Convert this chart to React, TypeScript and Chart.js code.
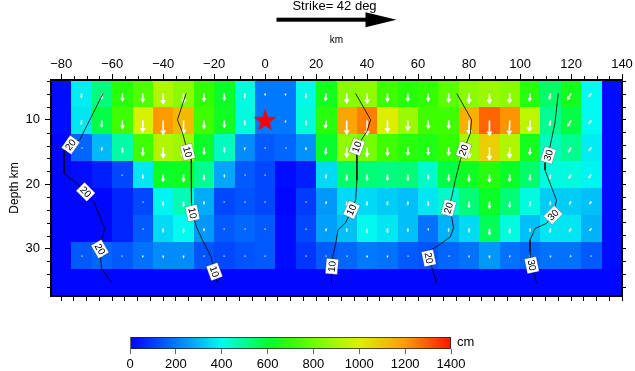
import { useEffect, useRef } from 'react';
import { Chart, registerables } from 'chart.js';

Chart.register(...registerables);

const FONT = '"Liberation Sans", Arial, Helvetica, sans-serif';

// Fault grid (subfaults): along-strike km, depth km
const STRIKE_START_KM = -84;
const STRIKE_STEP_KM = 8;
const DEPTH_TOP_KM = 3.8;
const DEPTH_STEP_KM = 4.2;
const X_MIN = -84;
const X_MAX = 140;
const Y_MIN = 3.8;
const Y_MAX = 37.4;

// Slip (cm) per subfault, top row first, 28 columns each
const SLIP_ROW_1 = [20, 380, 520, 680, 750, 920, 850, 700, 620, 420, 200, 200, 410, 640, 850, 860, 720, 680, 700, 770, 850, 880, 850, 680, 540, 640, 400, 20];
const SLIP_ROW_2 = [20, 370, 580, 720, 990, 1200, 1130, 720, 630, 420, 200, 200, 420, 680, 1180, 1240, 1010, 880, 720, 720, 1150, 1280, 1210, 940, 500, 580, 400, 20];
const SLIP_ROW_3 = [10, 170, 300, 480, 720, 920, 890, 620, 450, 230, 150, 170, 240, 610, 860, 810, 720, 680, 660, 700, 900, 1080, 920, 640, 450, 500, 380, 20];
const SLIP_ROW_4 = [10, 20, 50, 120, 370, 620, 630, 500, 270, 150, 120, 20, 50, 350, 540, 530, 520, 530, 440, 580, 630, 670, 620, 540, 420, 420, 390, 20];
const SLIP_ROW_5 = [10, 10, 10, 60, 120, 390, 460, 280, 120, 140, 120, 10, 100, 250, 350, 350, 330, 310, 370, 440, 530, 620, 530, 420, 330, 330, 310, 20];
const SLIP_ROW_6 = [10, 10, 10, 60, 150, 350, 400, 250, 150, 170, 150, 20, 120, 260, 310, 400, 370, 310, 190, 290, 350, 560, 420, 310, 370, 370, 290, 20];
const SLIP_ROW_7 = [10, 150, 170, 150, 190, 230, 230, 140, 120, 140, 150, 20, 90, 150, 170, 200, 190, 150, 140, 170, 190, 250, 190, 170, 190, 190, 150, 20];
const SLIP_ROW_8 = [10, 10, 10, 10, 10, 10, 10, 10, 10, 10, 10, 10, 10, 10, 10, 10, 10, 10, 10, 10, 10, 10, 10, 10, 10, 10, 10, 10];
const SLIP_ROWS = [SLIP_ROW_1, SLIP_ROW_2, SLIP_ROW_3, SLIP_ROW_4, SLIP_ROW_5, SLIP_ROW_6, SLIP_ROW_7, SLIP_ROW_8];

// Rake tilt of slip vectors per column (deg away from straight down)
const RAKE_TILT_DEG = [0, 5, 5, 0, 0, 0, 0, 0, 0, 0, 0, 0, 0, 8, 0, 0, 0, 0, 0, 0, 0, 0, 3, 5, 12, 30, 40, 40];

// Rupture-time contours (strike km, depth km)
const C10A_X = [-31.0, -34.4, -32.4, -30.4, -29.0, -28.8, -29.0, -28.5, -27.0, -24.6, -21.2, -19.9, -18.7];
const C10A_Y = [5.9, 10.0, 12.0, 15.0, 16.2, 19.4, 22.9, 24.5, 26.6, 28.7, 31.3, 33.6, 35.4];
const C10B_X = [35.5, 41.4, 39.9, 36.0, 36.0, 36.0, 35.5, 33.9, 31.6, 28.6, 27.7, 26.2, 26.2, 25.9];
const C10B_Y = [5.9, 10.0, 11.8, 14.2, 15.7, 19.4, 22.5, 24.0, 26.0, 27.1, 29.2, 31.8, 32.8, 35.4];
const C20A_X = [-63.6, -72.7, -76.3, -78.9, -78.9, -71.4, -70.4, -67.5, -62.9, -63.8, -64.8, -64.2, -60.3];
const C20A_Y = [5.9, 13.1, 13.9, 14.7, 18.3, 20.7, 21.2, 22.5, 26.9, 28.2, 30.1, 33.1, 35.3];
const C20B_X = [75.2, 81.0, 80.5, 77.9, 76.6, 75.6, 74.6, 73.2, 72.0, 73.2, 73.9, 72.7, 68.1, 65.3, 64.2, 65.3, 67.3];
const C20B_Y = [5.9, 10.0, 12.1, 14.7, 16.2, 17.8, 19.4, 22.0, 23.7, 25.1, 26.8, 28.2, 29.5, 30.2, 31.5, 32.8, 35.4];
const C30_X = [115.0, 113.7, 111.9, 111.1, 109.8, 109.8, 114.3, 113.0, 110.4, 105.9, 103.9, 103.9, 104.6, 106.5];
const C30_Y = [5.9, 10.5, 13.9, 15.5, 16.7, 17.8, 22.5, 24.8, 26.1, 26.9, 28.7, 30.5, 32.6, 35.4];

const LABEL_X = [-76.3, -70.4, -64.8, -30.4, -28.5, -19.9, 36.0, 33.9, 26.2, 77.9, 72.0, 64.2, 111.1, 113.0, 104.6];
const LABEL_Y = [13.9, 21.2, 30.1, 15.0, 24.5, 33.6, 14.2, 24.0, 32.8, 14.7, 23.7, 31.5, 15.5, 24.8, 32.6];
const LABEL_TEXT = ['20', '20', '20', '10', '10', '10', '10', '10', '10', '20', '20', '20', '30', '30', '30'];
const LABEL_ANGLE = [-55, 45, 60, 75, 78, 70, -70, -66, -85, -70, -75, 78, -72, -45, 78];

// Hypocentre
const EPI_X = 0;
const EPI_Y = 10;

// Axis ticks
const X_TICKS = [-80, -60, -40, -20, 0, 20, 40, 60, 80, 100, 120, 140];
const X_MINOR_STEP = 5;
const Y_TICKS = [10, 20, 30];
const Y_MINOR_STEP = 2;

// Colour scale
const CB_MIN = 0;
const CB_MAX = 1400;
const CB_TICKS = [0, 200, 400, 600, 800, 1000, 1200, 1400];
const CMAP_VALUES = [0, 200, 400, 600, 700, 800, 1000, 1200, 1400];
const CMAP_RGB = [
  [0, 0, 255], [0, 120, 255], [0, 250, 240], [0, 255, 50], [50, 255, 0],
  [110, 255, 0], [220, 240, 0], [255, 155, 0], [255, 20, 0],
];

function slipColor(v: number): string {
  if (v <= CMAP_VALUES[0]) return `rgb(${CMAP_RGB[0].join(',')})`;
  for (let i = 0; i < CMAP_VALUES.length - 1; i++) {
    if (v <= CMAP_VALUES[i + 1]) {
      const t = (v - CMAP_VALUES[i]) / (CMAP_VALUES[i + 1] - CMAP_VALUES[i]);
      const a = CMAP_RGB[i], b = CMAP_RGB[i + 1];
      const c = a.map((x, k) => Math.round(x + (b[k] - x) * t));
      return `rgb(${c.join(',')})`;
    }
  }
  return `rgb(${CMAP_RGB[CMAP_RGB.length - 1].join(',')})`;
}

const fmt = (v: number) => (v < 0 ? '\u2212' + Math.abs(v) : String(v));
const noPadX = (s: any) => { s.paddingLeft = 0; s.paddingRight = 0; };
const noPadY = (s: any) => { s.paddingTop = 0; s.paddingBottom = 0; };

const heatPlugin = {
  id: 'heat',
  beforeDraw(chart: any) {
    const { ctx } = chart;
    const xs = chart.scales.x, ys = chart.scales.y;
    ctx.save();
    SLIP_ROWS.forEach((row, r) => {
      row.forEach((v, c) => {
        const x0 = Math.round(xs.getPixelForValue(STRIKE_START_KM + c * STRIKE_STEP_KM));
        const x1 = Math.round(xs.getPixelForValue(STRIKE_START_KM + (c + 1) * STRIKE_STEP_KM));
        const y0 = Math.round(ys.getPixelForValue(DEPTH_TOP_KM + r * DEPTH_STEP_KM));
        const y1 = Math.round(ys.getPixelForValue(DEPTH_TOP_KM + (r + 1) * DEPTH_STEP_KM));
        ctx.fillStyle = slipColor(v);
        ctx.fillRect(x0, y0, x1 - x0, y1 - y0);
      });
    });
    ctx.restore();
  },
};

const ARROW_SCALE = 0.0125;
const arrowPlugin = {
  id: 'arrows',
  beforeDatasetsDraw(chart: any) {
    const { ctx } = chart;
    const xs = chart.scales.x, ys = chart.scales.y;
    ctx.save();
    ctx.fillStyle = '#fff';
    ctx.strokeStyle = '#fff';
    SLIP_ROWS.forEach((row, r) => {
      row.forEach((v, c) => {
        const cx = xs.getPixelForValue(STRIKE_START_KM + (c + 0.5) * STRIKE_STEP_KM);
        const cy = ys.getPixelForValue(DEPTH_TOP_KM + (r + 0.5) * DEPTH_STEP_KM);
        const L = v * ARROW_SCALE;
        if (L < 2.2) {
          if (v > 60) ctx.fillRect(Math.round(cx) - 0.5, Math.round(cy) - 0.5, 1.2, 1.2);
          return;
        }
        const a = (RAKE_TILT_DEG[c] * Math.PI) / 180;
        const dx = -Math.sin(a), dy = Math.cos(a);
        const head = Math.min(5, L * 0.45);
        const hw = head * 0.6;
        const bx = cx + dx * (L - head), by = cy + dy * (L - head);
        ctx.lineWidth = 1.6;
        ctx.beginPath();
        ctx.moveTo(cx, cy);
        ctx.lineTo(bx, by);
        ctx.stroke();
        ctx.beginPath();
        ctx.moveTo(cx + dx * L, cy + dy * L);
        ctx.lineTo(bx - dy * hw, by + dx * hw);
        ctx.lineTo(bx + dy * hw, by - dx * hw);
        ctx.closePath();
        ctx.fill();
      });
    });
    ctx.restore();
  },
};

const labelPlugin = {
  id: 'contourLabels',
  afterDatasetsDraw(chart: any) {
    const { ctx } = chart;
    const xs = chart.scales.x, ys = chart.scales.y;
    ctx.save();
    ctx.font = `10px ${FONT}`;
    ctx.textAlign = 'center';
    ctx.textBaseline = 'middle';
    LABEL_TEXT.forEach((t, i) => {
      const px = xs.getPixelForValue(LABEL_X[i]);
      const py = ys.getPixelForValue(LABEL_Y[i]);
      const w = ctx.measureText(t).width + 4;
      ctx.save();
      ctx.translate(px, py);
      ctx.rotate((LABEL_ANGLE[i] * Math.PI) / 180);
      ctx.fillStyle = '#fff';
      ctx.fillRect(-w / 2, -6, w, 12);
      ctx.strokeStyle = 'rgba(0,0,0,0.35)';
      ctx.lineWidth = 0.6;
      ctx.strokeRect(-w / 2, -6, w, 12);
      ctx.fillStyle = '#000';
      ctx.fillText(t, 0, 0.5);
      ctx.restore();
    });
    ctx.restore();
  },
};

const decoPlugin = {
  id: 'deco',
  afterDraw(chart: any) {
    const { ctx, chartArea } = chart;
    const xs = chart.scales.x, ys = chart.scales.y;
    ctx.save();
    // minor ticks
    ctx.strokeStyle = '#000';
    ctx.lineWidth = 1;
    ctx.beginPath();
    for (let v = -80; v <= X_MAX; v += X_MINOR_STEP) {
      if (X_TICKS.includes(v)) continue;
      const x = Math.round(xs.getPixelForValue(v)) + 0.5;
      ctx.moveTo(x, chartArea.top - 4);
      ctx.lineTo(x, chartArea.top);
    }
    for (let v = 4; v < Y_MAX; v += Y_MINOR_STEP) {
      if (Y_TICKS.includes(v)) continue;
      const y = Math.round(ys.getPixelForValue(v)) + 0.5;
      ctx.moveTo(chartArea.left - 4, y);
      ctx.lineTo(chartArea.left, y);
    }
    ctx.stroke();
    // strike arrow and title
    const mid = (chartArea.left + chartArea.right) / 2;
    ctx.fillStyle = '#000';
    ctx.font = `13px ${FONT}`;
    ctx.textAlign = 'center';
    ctx.textBaseline = 'alphabetic';
    ctx.fillText('Strike= 42 deg', mid - 2, 10);
    const ay = 19.7;
    ctx.fillRect(mid - 60, ay - 2, 90, 4);
    ctx.beginPath();
    ctx.moveTo(mid + 29, ay - 7.5);
    ctx.lineTo(mid + 60, ay);
    ctx.lineTo(mid + 29, ay + 7.5);
    ctx.closePath();
    ctx.fill();
    ctx.restore();
  },
};

function makeStar(): HTMLCanvasElement {
  const c = document.createElement('canvas');
  c.width = 26;
  c.height = 26;
  const g = c.getContext('2d')!;
  g.fillStyle = '#ff0000';
  g.beginPath();
  const R = 12, r = 4.7;
  for (let i = 0; i < 10; i++) {
    const rad = i % 2 === 0 ? R : r;
    const a = -Math.PI / 2 + (i * Math.PI) / 5;
    const x = 13 + rad * Math.cos(a), y = 14 + rad * Math.sin(a);
    if (i === 0) g.moveTo(x, y); else g.lineTo(x, y);
  }
  g.closePath();
  g.fill();
  return c;
}

const toPts = (xs: number[], ys: number[]) => xs.map((x, i) => ({ x, y: ys[i] }));

export default function App() {
  const mainRef = useRef<HTMLCanvasElement>(null);
  const cbRef = useRef<HTMLCanvasElement>(null);

  useEffect(() => {
    const contours = [
      [C10A_X, C10A_Y], [C10B_X, C10B_Y], [C20A_X, C20A_Y], [C20B_X, C20B_Y], [C30_X, C30_Y],
    ];
    const main = new Chart(mainRef.current!, {
      type: 'scatter',
      data: {
        datasets: [
          ...contours.map(([xs, ys]) => ({
            type: 'line' as const,
            data: toPts(xs, ys),
            borderColor: '#000',
            borderWidth: 0.8,
            pointRadius: 0,
            fill: false,
            tension: 0,
          })),
          {
            type: 'scatter' as const,
            data: [{ x: EPI_X, y: EPI_Y }],
            pointStyle: makeStar() as any,
            pointRadius: 12,
          },
        ],
      },
      options: {
        animation: false,
        responsive: false,
        devicePixelRatio: 1,
        layout: { padding: 0 },
        plugins: { legend: { display: false }, tooltip: { enabled: false } },
        scales: {
          x: {
            type: 'linear', position: 'top', min: X_MIN, max: X_MAX,
            afterBuildTicks: (s: any) => { s.ticks = X_TICKS.map((value) => ({ value })); },
            afterFit: (s: any) => { s.height = 80; noPadX(s); },
            ticks: { callback: (v: any) => fmt(Number(v)), font: { family: FONT, size: 13 }, color: '#000', padding: 2, maxRotation: 0, autoSkip: false },
            grid: { drawOnChartArea: false, drawTicks: true, tickLength: 6, color: '#000' },
            border: { display: true, color: '#000', width: 2 },
            title: { display: true, text: 'km', font: { family: FONT, size: 10 }, color: '#000', padding: { top: 34, bottom: 0 } },
          },
          x2: {
            type: 'linear', position: 'bottom', min: X_MIN, max: X_MAX,
            afterBuildTicks: (s: any) => {
              const t = [];
              for (let v = -80; v <= X_MAX; v += X_MINOR_STEP) t.push({ value: v });
              s.ticks = t;
            },
            afterFit: (s: any) => { s.height = 75; noPadX(s); },
            ticks: { callback: () => '', autoSkip: false },
            grid: { drawOnChartArea: false, drawTicks: true, tickLength: 5, color: '#000' },
            border: { display: true, color: '#000', width: 2 },
          },
          y: {
            type: 'linear', position: 'left', reverse: true, min: Y_MIN, max: Y_MAX,
            afterBuildTicks: (s: any) => { s.ticks = Y_TICKS.map((value) => ({ value })); },
            afterFit: (s: any) => { s.width = 51; noPadY(s); },
            ticks: { font: { family: FONT, size: 13 }, color: '#000', padding: 5, autoSkip: false },
            grid: { drawOnChartArea: false, drawTicks: true, tickLength: 6, color: '#000' },
            border: { display: true, color: '#000', width: 2 },
            title: { display: true, text: 'Depth km', font: { family: FONT, size: 12 }, color: '#000', padding: { top: 7, bottom: 0 } },
          },
          y2: {
            type: 'linear', position: 'right', reverse: true, min: Y_MIN, max: Y_MAX,
            afterBuildTicks: (s: any) => {
              const t = [];
              for (let v = 4; v < Y_MAX; v += Y_MINOR_STEP) t.push({ value: v });
              s.ticks = t;
            },
            afterFit: (s: any) => { s.width = 11; noPadY(s); },
            ticks: { callback: () => '', autoSkip: false },
            grid: { drawOnChartArea: false, drawTicks: true, tickLength: 4, color: '#000' },
            border: { display: true, color: '#000', width: 2 },
          },
        },
      } as any,
      plugins: [heatPlugin, arrowPlugin, labelPlugin, decoPlugin],
    });

    const cmPlugin = {
      id: 'cmLabel',
      afterDraw(chart: any) {
        const { ctx, chartArea } = chart;
        ctx.save();
        ctx.fillStyle = '#000';
        ctx.font = `13px ${FONT}`;
        ctx.textAlign = 'left';
        ctx.textBaseline = 'middle';
        ctx.fillText('cm', chartArea.right + 6, chartArea.top + 5);
        ctx.restore();
      },
    };

    const cb = new Chart(cbRef.current!, {
      type: 'bar',
      data: {
        labels: ['slip'],
        datasets: [{
          data: [[CB_MIN, CB_MAX]] as any,
          backgroundColor: (c: any) => {
            const ch = c.chart;
            if (!ch.chartArea) return '#00f';
            const xs = ch.scales.x;
            const g = ch.ctx.createLinearGradient(xs.getPixelForValue(CB_MIN), 0, xs.getPixelForValue(CB_MAX), 0);
            CMAP_VALUES.forEach((v, i) => g.addColorStop((v - CB_MIN) / (CB_MAX - CB_MIN), `rgb(${CMAP_RGB[i].join(',')})`));
            return g;
          },
          borderColor: '#222',
          borderWidth: 1,
          borderSkipped: false,
          barPercentage: 1,
          categoryPercentage: 1,
        }],
      },
      options: {
        indexAxis: 'y',
        animation: false,
        responsive: false,
        devicePixelRatio: 1,
        layout: { padding: { left: 130, right: 184, top: 337, bottom: 0 } },
        plugins: { legend: { display: false }, tooltip: { enabled: false } },
        scales: {
          y: { display: false },
          x: {
            type: 'linear', position: 'bottom', min: CB_MIN, max: CB_MAX,
            afterBuildTicks: (s: any) => { s.ticks = CB_TICKS.map((value) => ({ value })); },
            afterFit: (s: any) => { s.height = 22; noPadX(s); },
            ticks: { callback: (v: any) => String(v), font: { family: FONT, size: 13 }, color: '#000', padding: 3, autoSkip: false, maxRotation: 0 },
            grid: { drawOnChartArea: false, drawTicks: true, tickLength: 5, color: '#666' },
            border: { display: false },
          },
        },
      } as any,
      plugins: [cmPlugin],
    });

    return () => { main.destroy(); cb.destroy(); };
  }, []);

  return (
    <div style={{ position: 'fixed', left: 0, top: 0, width: 635, height: 371, background: '#fff' }}>
      <canvas ref={mainRef} width={635} height={371} style={{ position: 'absolute', left: 0, top: 0 }} />
      <canvas ref={cbRef} width={635} height={371} style={{ position: 'absolute', left: 0, top: 0 }} />
    </div>
  );
}
